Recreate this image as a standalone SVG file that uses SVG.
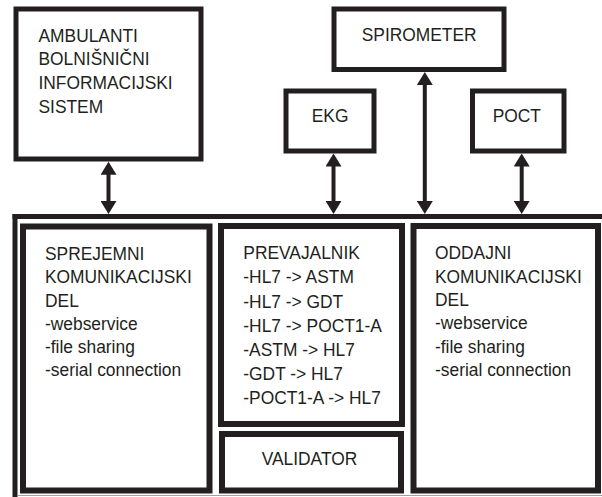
<svg xmlns="http://www.w3.org/2000/svg" width="602" height="497" viewBox="0 0 602 497">
<style>
.box{fill:#fff;stroke:#231f20;stroke-width:5}
.ibox{fill:#fff;stroke:#231f20;stroke-width:6}
.t{font-family:"Liberation Sans",Arial,sans-serif;font-size:18.5px;fill:#231f20}
.conn{stroke:#231f20;stroke-width:4;fill:none;marker-start:url(#ah);marker-end:url(#ah)}
</style>
<defs>
<marker id="ah" viewBox="0 0 13 16" refX="7" refY="8" markerWidth="13" markerHeight="16" markerUnits="userSpaceOnUse" orient="auto-start-reverse">
<path d="M0,0 L13,8 L0,16 z" fill="#231f20"/>
</marker>
</defs>
<rect width="602" height="497" fill="#fff"/>
<g id="system">
<line x1="12.5" y1="216.5" x2="602" y2="216.5" stroke="#231f20" stroke-width="5"/>
<line x1="15" y1="214" x2="15" y2="497" stroke="#231f20" stroke-width="5"/>
<line x1="18" y1="495.5" x2="602" y2="495.5" stroke="#a0a0a0" stroke-width="1"/>
</g>
<g id="ambulanti">
<rect class="box" x="16" y="9" width="185" height="150"/>
<g transform="translate(38.5 0) scale(0.94 1)">
<text class="t" x="0" y="41.7">AMBULANTI</text>
<text class="t" x="0" y="65.3">BOLNIŠNIČNI</text>
<text class="t" x="0" y="89">INFORMACIJSKI</text>
<text class="t" x="0" y="112.7">SISTEM</text>
</g>
</g>
<g id="spirometer">
<rect class="box" x="334" y="9" width="170" height="60.5"/>
<g transform="translate(361.7 0) scale(0.94 1)"><text class="t" x="0" y="41.5">SPIROMETER</text></g>
</g>
<g id="ekg">
<rect class="box" x="286" y="91" width="88" height="60"/>
<g transform="translate(311.7 0) scale(0.94 1)"><text class="t" x="0" y="121.7">EKG</text></g>
</g>
<g id="poct">
<rect class="box" x="472.5" y="91" width="91.5" height="60"/>
<g transform="translate(492.7 0) scale(0.94 1)"><text class="t" x="0" y="121.7">POCT</text></g>
</g>
<g id="sprejemni">
<rect class="ibox" x="23" y="226.5" width="186.5" height="264"/>
<g transform="translate(45 0) scale(0.94 1)">
<text class="t" x="0" y="260">SPREJEMNI</text>
<text class="t" x="0" y="283.3">KOMUNIKACIJSKI</text>
<text class="t" x="0" y="306.6">DEL</text>
<text class="t" x="0" y="329.9">-webservice</text>
<text class="t" x="0" y="353.2">-file sharing</text>
<text class="t" x="0" y="376.5">-serial connection</text>
</g>
</g>
<g id="prevajalnik">
<rect class="ibox" x="221" y="226" width="181" height="198"/>
<g transform="translate(243.3 0) scale(0.94 1)">
<text class="t" x="0" y="259.3">PREVAJALNIK</text>
<text class="t" x="0" y="283.5">-HL7 -&gt; ASTM</text>
<text class="t" x="0" y="307.7">-HL7 -&gt; GDT</text>
<text class="t" x="0" y="331.9">-HL7 -&gt; POCT1-A</text>
<text class="t" x="0" y="356.1">-ASTM -&gt; HL7</text>
<text class="t" x="0" y="380.3">-GDT -&gt; HL7</text>
<text class="t" x="0" y="404.5">-POCT1-A -&gt; HL7</text>
</g>
</g>
<g id="validator">
<rect class="ibox" x="222" y="434" width="179" height="56.5"/>
<g transform="translate(261.7 0) scale(0.94 1)"><text class="t" x="0" y="465">VALIDATOR</text></g>
</g>
<g id="oddajni">
<rect class="ibox" x="413.5" y="226" width="184.5" height="264.5"/>
<g transform="translate(435 0) scale(0.94 1)">
<text class="t" x="0" y="259.5">ODDAJNI</text>
<text class="t" x="0" y="282.8">KOMUNIKACIJSKI</text>
<text class="t" x="0" y="306.1">DEL</text>
<text class="t" x="0" y="329.4">-webservice</text>
<text class="t" x="0" y="352.7">-file sharing</text>
<text class="t" x="0" y="376">-serial connection</text>
</g>
</g>
<g id="connectors">
<line class="conn" x1="108.5" y1="167.7" x2="108.5" y2="208"/>
<line class="conn" x1="333.5" y1="159.5" x2="333.5" y2="208"/>
<line class="conn" x1="424.8" y1="78" x2="424.8" y2="208"/>
<line class="conn" x1="521.7" y1="159.5" x2="521.7" y2="208"/>
</g>
</svg>
